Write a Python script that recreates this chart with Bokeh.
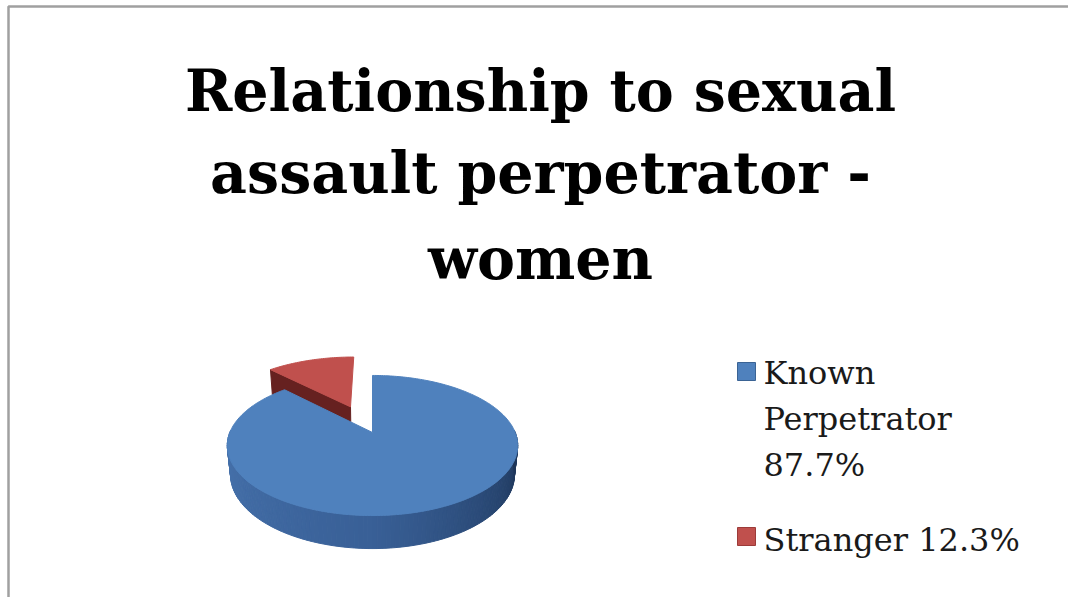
import numpy as np
from bokeh.plotting import figure
from bokeh.models import Range1d, ColumnDataSource
from bokeh.core.properties import value
from bokeh.embed import file_html
from bokeh.resources import INLINE

# ---- data ----
title_lines = ["Relationship to sexual", "assault perpetrator -", "women"]
categories = ["Known Perpetrator", "Stranger"]
shares = [87.7, 12.3]
legend_labels = [["Known", "Perpetrator", "87.7%"], ["Stranger 12.3%"]]
top_colors = ["#4f81bd", "#c0504d"]

W, H = 1068, 597
p = figure(width=W, height=H, x_range=Range1d(0, W), y_range=Range1d(H, 0),
           output_backend="svg", toolbar_location=None, min_border=0)
p.axis.visible = False
p.grid.visible = False
p.outline_line_color = None
p.background_fill_color = "white"
p.border_fill_color = "white"

# chart frame
p.quad(left=8, right=W + 30, top=6, bottom=H + 30, fill_color=None,
       line_color="#a0a0a0", line_width=2.5)

# ---- 3D pie: perspective projection of a unit-radius disc ----
cx0, cy0 = 372, 432          # projected pie centre on screen
elev = np.radians(27.8)
s_e, c_e = np.sin(elev), np.cos(elev)
D, fx_, fy_, T = 4.765, 680.0, 691.0, 0.23
explode_r = 0.44

def proj(X, Y, Z):
    X, Y, Z = np.asarray(X, float), np.asarray(Y, float), np.asarray(Z, float)
    yc = Y * s_e + Z * c_e
    d = D + Y * c_e - Z * s_e
    return cx0 + fx_ * X / d, cy0 - fy_ * yc / d

total = sum(shares)
red_span = 360.0 * shares[1] / total
blue_start, blue_end = 90.0 + red_span, 450.0
red_start, red_end = 90.0, 90.0 + red_span

# red slice (exploded along its bisector)
mid = np.radians(90.0 + red_span / 2)
ex, ey = explode_r * np.cos(mid), explode_r * np.sin(mid)
re = np.radians(red_end)
fx, fy = proj([ex, ex + np.cos(re), ex + np.cos(re), ex],
              [ey, ey + np.sin(re), ey + np.sin(re), ey],
              [0, 0, -T, -T])
p.patch(list(fx), list(fy), fill_color="#662120", line_color="#662120")
ang = np.radians(np.linspace(red_start, red_end, 40))
rx_, ry_ = proj(np.r_[ex, ex + np.cos(ang)], np.r_[ey, ey + np.sin(ang)],
                np.zeros(len(ang) + 1))
p.patch(list(rx_), list(ry_), fill_color=top_colors[1], line_color=top_colors[1])

# blue slice side wall with shading strips
n = 120
angs = np.linspace(178, 362, n + 1)
c_left = np.array([0x48, 0x74, 0xae])
c_mid = np.array([0x39, 0x60, 0x97])
c_right = np.array([0x1c, 0x33, 0x55])
xs_list, ys_list, cols = [], [], []
for i in range(n):
    a0, a1 = np.radians(angs[i]), np.radians(angs[i + 1])
    fr = min(max((0.5 * (angs[i] + angs[i + 1]) - 180) / 180, 0), 1)
    if fr < 0.5:
        c = c_left + (c_mid - c_left) * (fr / 0.5)
    else:
        c = c_mid + (c_right - c_mid) * ((fr - 0.5) / 0.5)
    col = "#%02x%02x%02x" % tuple(int(v) for v in c)
    qx, qy = proj([np.cos(a0), np.cos(a1), np.cos(a1), np.cos(a0)],
                  [np.sin(a0), np.sin(a1), np.sin(a1), np.sin(a0)],
                  [0, 0, -T, -T])
    xs_list.append(list(qx))
    ys_list.append(list(qy))
    cols.append(col)
p.patches(xs_list, ys_list, fill_color=cols, line_color=cols, line_width=1)

# blue top
ang = np.radians(np.linspace(blue_start, blue_end, 300))
bx, by = proj(np.r_[0, np.cos(ang)], np.r_[0, np.sin(ang)], np.zeros(len(ang) + 1))
p.patch(list(bx), list(by), fill_color=top_colors[0], line_color=top_colors[0])

# ---- title ----
title_size = 57
shift_t = 0.38 * title_size
tsrc = ColumnDataSource(dict(x=[540] * 3,
                             y=[112 - shift_t, 194 - shift_t, 280 - shift_t],
                             text=title_lines))
p.text(x="x", y="y", text="text", source=tsrc, text_font=value("DejaVu Serif"),
       text_font_style="bold", text_font_size="%dpx" % title_size,
       text_align="center", text_baseline="alphabetic", text_color="#000000")

# ---- legend ----
p.scatter(x=[746, 746], y=[371, 536], marker="square", size=18,
          fill_color=top_colors, line_color=["#3a6394", "#9c3b39"], line_width=1)
leg_size = 32
shift_l = 0.38 * leg_size
lx, ly, lt = [], [], []
base_y = [385, 552]
for k, lines in enumerate(legend_labels):
    for j, s in enumerate(lines):
        lx.append(763)
        ly.append(base_y[k] + 46 * j - shift_l)
        lt.append(s)
p.text(x=lx, y=ly, text=lt, text_font=value("DejaVu Serif"),
       text_font_size="%dpx" % leg_size, text_baseline="alphabetic",
       text_align="left", text_color="#1a1a1a")

open("out.html", "w").write(file_html(p, INLINE))
